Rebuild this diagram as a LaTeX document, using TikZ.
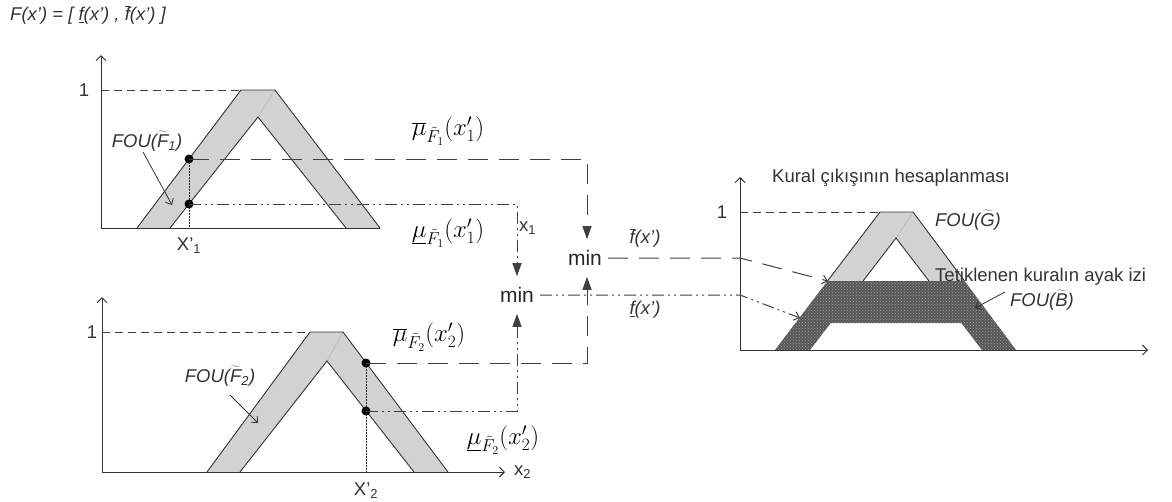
\documentclass[tikz,border=0pt]{standalone}
\usepackage{fontspec}
\setmainfont{Liberation Sans}
\usetikzlibrary{arrows.meta,patterns}
\newcommand\tlF{\ensuremath{\widetilde{\hbox{\itshape F}}}}
\newcommand\tlG{\ensuremath{\widetilde{\hbox{\itshape G}}}}
\newcommand\tlB{\ensuremath{\widetilde{\hbox{\itshape B}}}}
\begin{document}
\begin{tikzpicture}[x=1pt,y=-1pt,
  ln/.style={draw=black!80, line width=0.9pt},
  axarrow/.style={-{Straight Barb[length=5pt,width=10pt]}},
  fouarrow/.style={draw=black!80, line width=0.8pt, -{Straight Barb[length=5pt,width=9pt]}},
  onedash/.style={draw=black!75, line width=0.9pt, dash pattern=on 8pt off 5pt},
  longdash/.style={draw=black!75, line width=1pt, dash pattern=on 20pt off 11pt},
  dashdots/.style={draw=black!75, line width=1pt, dash pattern=on 12pt off 4pt on 2pt off 4pt on 2pt off 4pt},
  vdot/.style={draw=black!85, line width=0.8pt, dash pattern=on 1.5pt off 1.5pt},
  mintip/.style={-{Triangle[width=9pt,length=13pt]}},
  outtip/.style={-{Straight Barb[length=5pt,width=9pt]}},
  fou/.style={fill=gray!35},
  lite/.style={draw=gray!55, line width=0.7pt},
  lbl/.style={font=\fontsize{18.5}{22}\selectfont, text=black!80, inner sep=0pt},
  mathlbl/.style={font=\fontsize{25}{29}\selectfont, inner sep=0pt},
  minlbl/.style={font=\fontsize{21}{25}\selectfont, text=black!85, inner xsep=6pt, inner ysep=11pt},
  dotmark/.style={circle, fill=black, inner sep=0pt, minimum size=9pt}]
\useasboundingbox (0,0) rectangle (1172,501);

% title
\node[lbl, anchor=west] (title) at (10,15) {\itshape F(x') = [ \underline{f}(x') , $\overline{\hbox{\itshape f}}$(x') ]};

% ---------- top chart ----------
\fill[fou] (137,228) -- (241,90) -- (275,90) -- (380,228) -- cycle;
\fill[white] (170,228) -- (258,117) -- (346,228) -- cycle;
\draw[lite] (258,117) -- (275,90);
\draw[ln] (137,228) -- (241,90) -- (275,90) -- (380,228);
\draw[ln] (170,228) -- (258,117) -- (346,228);
\draw[onedash] (101,90) -- (241,90);
\draw[ln, axarrow] (101,228) -- (101,55);
\draw[ln] (101,228) -- (380,228);
\node[lbl] (one1) at (84,90) {1};
\node[lbl] (fou1) at (147,141) {\itshape FOU(\tlF\textsubscript{\itshape 1})};
\coordinate (fou1tip) at (172,205);
\draw[fouarrow] (143,152) -- (fou1tip);
\node[lbl] (xp1) at (189,246) {X'\textsubscript{1}};

% ---------- bottom chart ----------
\fill[fou] (207,472) -- (310,332) -- (343,332) -- (448,472) -- cycle;
\fill[white] (240,472) -- (327,361) -- (414,472) -- cycle;
\draw[lite] (327,361) -- (343,332);
\draw[ln] (207,472) -- (310,332) -- (343,332) -- (448,472);
\draw[ln] (240,472) -- (327,361) -- (414,472);
\draw[onedash] (102,332) -- (310,332);
\draw[ln, axarrow] (102,472) -- (102,297);
\draw[ln, axarrow] (102,472) -- (505,472);
\node[lbl] (one2) at (92,332) {1};
\node[lbl] (fou2) at (220,376) {\itshape FOU(\tlF\textsubscript{\itshape 2})};
\coordinate (fou2tip) at (258,423);
\draw[fouarrow] (230,395) -- (fou2tip);
\node[lbl] (xp2) at (366,491) {X'\textsubscript{2}};
\node[lbl, anchor=west] (x2) at (514,472) {x\textsubscript{2}};

% ---------- dots ----------
\node[dotmark] (p1u) at (189,159) {};
\node[dotmark] (p1l) at (189,204) {};
\node[dotmark] (p2u) at (366,363) {};
\node[dotmark] (p2l) at (366,411) {};
\draw[vdot] (p1u.center) -- (189,228);
\draw[vdot] (p2u.center) -- (366,472);

% ---------- min nodes ----------
\node[minlbl] (minL) at (517,295) {min};
\node[minlbl] (minR) at (585,258) {min};

\draw[longdash, mintip] (p1u.center) -- (587,159) -- (minR.north -| 587,0);
\draw[dashdots, mintip] (p1l.center) -- (517,204) -- (minL.north);
\draw[dashdots, mintip] (p2l.center) -- (517,411) -- (minL.south);
\draw[longdash, mintip] (p2u.center) -- (587,363) -- (minR.south -| 587,0);
\node[lbl, anchor=west] (x1) at (519,228) {x\textsubscript{1}};

% labels
\node[mathlbl] (mu1u) at (448,131) {$\overline{\mu}_{\tilde{F}_1}(x_1')$};
\node[mathlbl] (mu1l) at (448,233) {$\underline{\mu}_{\tilde{F}_1}(x_1')$};
\node[mathlbl] (mu2u) at (429,337) {$\overline{\mu}_{\tilde{F}_2}(x_2')$};
\node[mathlbl] (mu2l) at (503,440) {$\underline{\mu}_{\tilde{F}_2}(x_2')$};

% ---------- output chart ----------
\fill[fou] (775,350) -- (880,212) -- (913,212) -- (1016,350) -- cycle;
\fill[white] (810,350) -- (896,238) -- (982,350) -- cycle;
\draw[lite] (896,238) -- (913,212);
\fill[black!66, even odd rule] (775,350) -- (827.5,281) -- (964.5,281) -- (1016,350) -- cycle
   (810,350) -- (830.7,323) -- (961.3,323) -- (982,350) -- cycle;
\fill[pattern=crosshatch dots, pattern color=gray!75, even odd rule] (775,350) -- (827.5,281) -- (964.5,281) -- (1016,350) -- cycle
   (810,350) -- (830.7,323) -- (961.3,323) -- (982,350) -- cycle;
\draw[ln] (827.5,281) -- (880,212) -- (913,212) -- (964.5,281);
\draw[ln] (863,281) -- (896,238) -- (929,281);
\draw[onedash] (740,212) -- (880,212);
\draw[ln, axarrow] (740,350) -- (740,177);
\draw[ln, axarrow] (740,350) -- (1148,350);
\node[lbl] (one3) at (722,212) {1};
\node[lbl, anchor=west] (kural) at (772,178) {Kural çıkışının hesaplanması};
\node[lbl] (fouG) at (968,220) {\itshape FOU(\tlG)};
\node[lbl, anchor=west] (tetik) at (935,277) {Tetiklenen kuralın ayak izi};
\node[lbl] (fouB) at (1042,300) {\itshape FOU(\tlB)};
\coordinate (fouBtip) at (975,308);
\draw[fouarrow] (1005,292) -- (fouBtip);

% outputs of min
\coordinate (upcut) at (828,281);
\coordinate (lowcut) at (800,318);
\draw[longdash, outtip] (minR.east) -- (740,258) -- (upcut);
\draw[dashdots, outtip] (minL.east) -- (740,295) -- (lowcut);
\node[lbl] (fbar) at (645,238) {\itshape $\overline{\hbox{\itshape f}}$(x')};
\node[lbl] (funder) at (645,310) {\itshape \underline{f}(x')};
\end{tikzpicture}
\end{document}
